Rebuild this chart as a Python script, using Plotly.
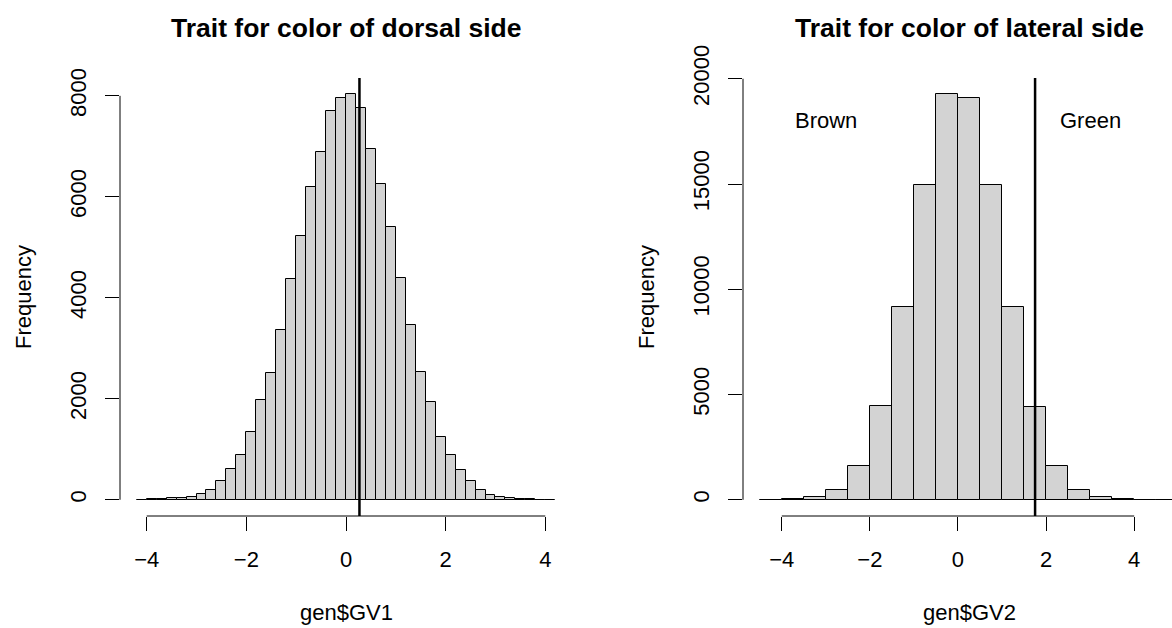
import plotly.graph_objects as go

# ---------------- data ----------------
# Left histogram: gen$GV1, breaks from -4.2 to 4.2 by 0.2
gv1_break_start = -4.2
gv1_bin_width = 0.2
gv1_counts = [5, 8, 15, 28, 40, 63, 108, 190, 378, 614,
              884, 1340, 1967, 2508, 3366, 4376, 5227, 6191, 6884, 7702,
              7953, 8032, 7768, 6950, 6263, 5399, 4402, 3452, 2521, 1927,
              1247, 891, 580, 380, 185, 92, 56, 36, 16, 8, 5, 3]
gv1_threshold = 0.27

# Right histogram: gen$GV2, breaks from -4.5 to 5.0 by 0.5
gv2_break_start = -4.5
gv2_bin_width = 0.5
gv2_counts = [8, 30, 110, 459, 1615, 4448, 9181, 14944, 19265, 19107,
              14960, 9181, 4400, 1583, 443, 111, 30, 8, 2]
gv2_threshold = 1.75

x_ticks = [-4, -2, 0, 2, 4]
y1_ticks = [0, 2000, 4000, 6000, 8000]
y2_ticks = [0, 5000, 10000, 15000, 20000]

titles = ["Trait for color of dorsal side", "Trait for color of lateral side"]
x_titles = ["gen$GV1", "gen$GV2"]
y_title = "Frequency"
region_labels = [("Brown", -3, 18000), ("Green", 3, 18000)]

# ---------------- layout constants ----------------
W, H = 1172, 628
FONT = "Liberation Sans, Arial, Helvetica, sans-serif"
FILL = "#D3D3D3"

left_px = (120, 572)
right_px = (743, 1195)      # right plot region runs past the image edge
top_px, bot_px = 78, 516
ydom = [1 - bot_px / H, 1 - top_px / H]


def centers(start, width, n):
    return [start + width * (i + 0.5) for i in range(n)]


def r_range(lo, hi):
    d = (hi - lo) * 0.04
    return lo - d, hi + d


fig = go.Figure()

gv1_x = centers(gv1_break_start, gv1_bin_width, len(gv1_counts))
gv2_x = centers(gv2_break_start, gv2_bin_width, len(gv2_counts))

fig.add_trace(go.Bar(x=gv1_x, y=gv1_counts, width=gv1_bin_width,
                     marker=dict(color=FILL, line=dict(color="black", width=1)),
                     xaxis="x", yaxis="y", showlegend=False, hoverinfo="x+y"))
fig.add_trace(go.Bar(x=gv2_x, y=gv2_counts, width=gv2_bin_width,
                     marker=dict(color=FILL, line=dict(color="black", width=1)),
                     xaxis="x2", yaxis="y2", showlegend=False, hoverinfo="x+y"))

x1_lo, x1_hi = r_range(gv1_break_start, gv1_break_start + gv1_bin_width * len(gv1_counts))
x2_lo, x2_hi_full = r_range(gv2_break_start, gv2_break_start + gv2_bin_width * len(gv2_counts))
x2_hi = x2_lo + (W - right_px[0]) * (x2_hi_full - x2_lo) / (right_px[1] - right_px[0])

y1_lo, y1_hi = r_range(0, max(gv1_counts))
y2_lo, y2_hi = r_range(0, max(gv2_counts))

BASE = 22
tickfont = dict(family=FONT, size=BASE, color="black")
common_x = dict(showgrid=False, zeroline=False, showline=False, ticks="outside",
                ticklen=14, tickwidth=1, tickcolor="black", tickfont=tickfont,
                ticklabelstandoff=10)
common_y = dict(showgrid=False, zeroline=False, showline=False, ticks="outside",
                ticklen=14, tickwidth=1, tickcolor="black", tickfont=tickfont,
                tickangle=-90, ticklabelstandoff=10)

fig.update_layout(
    width=W, height=H, autosize=False,
    margin=dict(l=0, r=0, t=0, b=0, pad=0, autoexpand=False),
    paper_bgcolor="white", plot_bgcolor="white",
    bargap=0,
    xaxis=dict(domain=[left_px[0] / W, left_px[1] / W], range=[x1_lo, x1_hi],
               tickvals=x_ticks, anchor="y", **common_x),
    yaxis=dict(domain=ydom, range=[y1_lo, y1_hi], tickvals=y1_ticks,
               ticktext=[str(v) for v in y1_ticks], anchor="x", **common_y),
    xaxis2=dict(domain=[right_px[0] / W, 1.0], range=[x2_lo, x2_hi],
                tickvals=x_ticks, anchor="y2", **common_x),
    yaxis2=dict(domain=ydom, range=[y2_lo, y2_hi], tickvals=y2_ticks,
                ticktext=[str(v) for v in y2_ticks], anchor="x2", **common_y),
)

shapes = []
# R-style axis lines spanning only from first to last tick
for xref, yref, yt in (("x", "y", y1_ticks), ("x2", "y2", y2_ticks)):
    shapes.append(dict(type="line", xref=xref, yref="paper",
                       x0=x_ticks[0], x1=x_ticks[-1], y0=ydom[0], y1=ydom[0],
                       line=dict(color="black", width=1)))
    shapes.append(dict(type="line", xref=f"{xref} domain", yref=yref,
                       x0=0, x1=0, y0=yt[0], y1=yt[-1],
                       line=dict(color="black", width=1)))
# threshold lines
for xref, xv in (("x", gv1_threshold), ("x2", gv2_threshold)):
    shapes.append(dict(type="line", xref=xref, yref="paper",
                       x0=xv, x1=xv, y0=ydom[0], y1=ydom[1],
                       line=dict(color="black", width=2.5)))
fig.update_layout(shapes=shapes)

ann = []
plot_centers = [(left_px[0] + left_px[1]) / 2 / W, (right_px[0] + right_px[1]) / 2 / W]
axis_px = [left_px[0], right_px[0]]
for i in range(2):
    ann.append(dict(text=f"<b>{titles[i]}</b>", x=plot_centers[i], y=1 - 28 / H,
                    xref="paper", yref="paper", showarrow=False,
                    xanchor="center", yanchor="middle",
                    font=dict(family=FONT, size=26.5, color="black")))
    ann.append(dict(text=x_titles[i], x=plot_centers[i], y=1 - 612 / H,
                    xref="paper", yref="paper", showarrow=False,
                    xanchor="center", yanchor="middle",
                    font=dict(family=FONT, size=BASE, color="black")))
    ann.append(dict(text=y_title, x=(axis_px[i] - 96) / W, y=1 - 297 / H,
                    xref="paper", yref="paper", showarrow=False, textangle=-90,
                    xanchor="center", yanchor="middle",
                    font=dict(family=FONT, size=BASE, color="black")))
for label, xv, yv in region_labels:
    ann.append(dict(text=label, x=xv, y=yv, xref="x2", yref="y2", showarrow=False,
                    xanchor="center", yanchor="middle",
                    font=dict(family=FONT, size=BASE, color="black")))
fig.update_layout(annotations=ann)

fig.write_html("out.html")
